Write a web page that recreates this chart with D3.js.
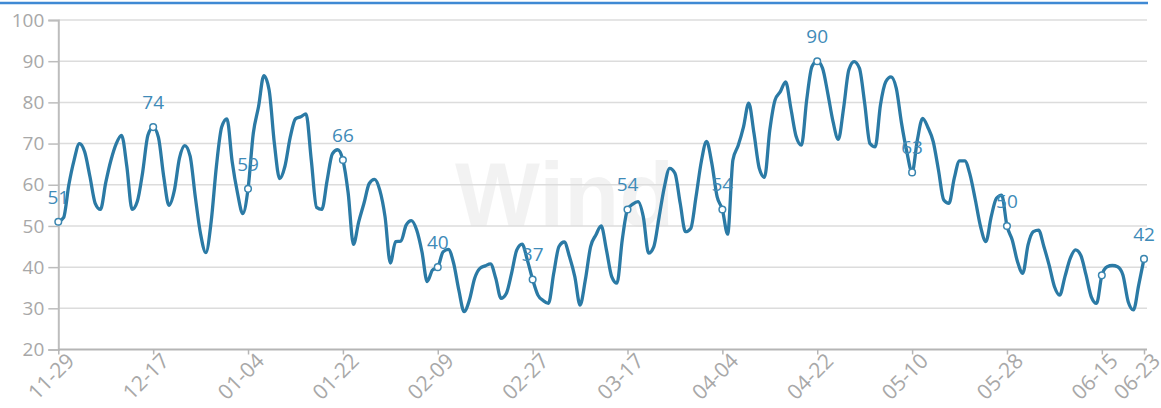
<!DOCTYPE html>
<html>
<head>
<meta charset="utf-8">
<script src="https://cdn.jsdelivr.net/npm/d3@7/dist/d3.min.js"></script>
<style>
  html, body { margin: 0; padding: 0; background: #fff; }
  svg { display: block; font-family: "Open Sans", "Noto Sans", sans-serif; }
</style>
</head>
<body>
<svg id="chart" width="1161" height="408"></svg>
<script>
// Daily categories: 2022-11-29 .. 2023-06-23
const fmt = d3.timeFormat("%m-%d");
const dates = d3.timeDay.range(new Date(2022, 10, 29), new Date(2023, 5, 24)).map(fmt);

// Daily series values
const values = [
  51, 52, 60, 66, 70, 68, 62, 55.5, 54, 60.5,
  66, 70, 72, 64.5, 54, 56, 63, 72, 74, 71.5,
  62, 55, 58.5, 66.5, 69.5, 67, 57, 48, 43.5, 51,
  64.5, 74, 76, 65.5, 58, 53, 59, 72.5, 79, 86.5,
  83, 70, 61.5, 64.5, 71.5, 76, 76.5, 77.2, 66, 54.5,
  54, 61, 67.5, 68.5, 66, 58, 45.5, 51, 55.5, 60.3,
  61.3, 58.7, 52.2, 41, 46.2, 46.3, 50.2, 51.3, 49, 43.7,
  36.5, 39.3, 40, 43.7, 44.3, 41, 34.4, 29.2, 32, 37.3,
  39.7, 40.3, 40.8, 37.3, 32.4, 33.6, 38.5, 44.2, 45.6, 41.7,
  37, 33.2, 31.9, 31.2, 38.5, 45, 46.1, 42.5, 37.7, 30.8,
  36.9, 45, 47.8, 50, 44.2, 37.7, 36.1, 46.6, 54, 55.3,
  55.9, 52.2, 43.4, 45, 52.2, 59.5, 64, 62.8, 55.5, 48.6,
  49.4, 57.1, 65.6, 70.5, 65.2, 57.1, 54, 48, 66, 69.5,
  74, 79.8, 72.5, 64, 61.8, 73.3, 80.6, 82.6, 85, 78.5,
  71.7, 69.6, 80.6, 88.7, 90, 88.3, 82.2, 75.3, 71, 78.6,
  87.9, 89.9, 88.3, 79.8, 70, 69.2, 79.4, 85, 86.2, 83.4,
  74.9, 68, 63, 70.9, 76.1, 73.9, 70.5, 63.6, 56.3, 55.5,
  61.6, 65.8, 65.8, 62.4, 56.3, 49.8, 46.2, 52.2, 56.7, 57.5,
  50, 46.6, 41.3, 38.5, 45.4, 48.6, 49, 45, 40.5, 35.3,
  33.2, 37.7, 42.1, 44.2, 42.9, 38.1, 32.8, 31.2, 38, 40.1,
  40.4, 40.1, 38.1, 31.6, 29.6, 35.7, 42
];

// Axis ticks
const xTickLabels = ["11-29", "12-17", "01-04", "01-22", "02-09", "02-27", "03-17",
                     "04-04", "04-22", "05-10", "05-28", "06-15", "06-23"];
const yTickValues = [20, 30, 40, 50, 60, 70, 80, 90, 100];
// Points with a marker; the ones listed in labelledDates also carry a value label
const markedDates = xTickLabels;
const labelledDates = ["11-29", "12-17", "01-04", "01-22", "02-09", "02-27", "03-17",
                       "04-04", "04-22", "05-10", "05-28", "06-23"];

(function draw() {
  const data = dates.map((d, i) => ({ date: d, value: values[i] }));

  const svg = d3.select("#chart");
  const plotLeft = 58.3, plotEnd = 1144, plotRight = 1147, plotTop = 20, plotBottom = 349.5;

  const x = d3.scalePoint().domain(dates).range([plotLeft, plotEnd]);
  const y = d3.scaleLinear().domain([20, 100]).range([plotBottom, plotTop]);

  // header rule
  svg.append("line")
    .attr("x1", 0).attr("x2", 1148).attr("y1", 3).attr("y2", 3)
    .attr("stroke", "#3f89d4").attr("stroke-width", 2.5);

  // watermark
  svg.append("text")
    .attr("x", 455).attr("y", 226)
    .attr("font-family", "Liberation Sans, Arial, sans-serif")
    .attr("font-weight", "bold").attr("font-size", 90)
    .attr("fill", "#000").attr("fill-opacity", 0.05)
    .text("Wind");

  // horizontal grid
  svg.append("g")
    .selectAll("line")
    .data(yTickValues.slice(1))
    .join("line")
    .attr("x1", plotLeft).attr("x2", plotRight)
    .attr("y1", d => y(d)).attr("y2", d => y(d))
    .attr("stroke", "#dcdcdc").attr("stroke-width", 1.5);

  // y axis
  const yAxis = svg.append("g")
    .attr("transform", `translate(${plotLeft},0)`)
    .call(d3.axisLeft(y).tickValues(yTickValues).tickSize(10).tickPadding(4).tickFormat(d3.format("d")));
  yAxis.select(".domain").attr("stroke", "#bdbdbd").attr("stroke-width", 2);
  yAxis.selectAll(".tick line").attr("stroke", "#bdbdbd").attr("stroke-width", 1.5);
  yAxis.selectAll(".tick text")
    .attr("fill", "#a8a8a8").attr("font-size", 19)
    .attr("font-family", "Open Sans, sans-serif");

  // x axis
  const xAxis = svg.append("g")
    .attr("transform", `translate(0,${plotBottom})`)
    .call(d3.axisBottom(x).tickValues(xTickLabels).tickSize(5).tickSizeOuter(0));
  xAxis.select(".domain")
    .attr("d", `M${plotLeft},0H${plotRight}`)
    .attr("stroke", "#b5b5b5").attr("stroke-width", 2);
  xAxis.selectAll(".tick line").attr("stroke", "#b5b5b5").attr("stroke-width", 1.5);
  xAxis.selectAll(".tick text")
    .attr("fill", "#a8a8a8").attr("font-size", 21)
    .attr("font-family", "Open Sans, sans-serif")
    .attr("text-anchor", "end")
    .attr("x", 3).attr("y", 6).attr("dy", "0.71em")
    .attr("transform", "rotate(-45)");

  // series line
  const line = d3.line()
    .x(d => x(d.date))
    .y(d => y(d.value))
    .curve(d3.curveMonotoneX);

  svg.append("path")
    .datum(data)
    .attr("d", line)
    .attr("fill", "none")
    .attr("stroke", "#2b7aa5")
    .attr("stroke-width", 3.3)
    .attr("stroke-linejoin", "round");

  // markers
  const marked = data.filter(d => markedDates.includes(d.date));
  svg.append("g")
    .selectAll("circle")
    .data(marked)
    .join("circle")
    .attr("cx", d => x(d.date)).attr("cy", d => y(d.value))
    .attr("r", 3.3)
    .attr("fill", "#fff").attr("stroke", "#3a86b0").attr("stroke-width", 1.5);

  // value labels
  svg.append("g")
    .selectAll("text")
    .data(data.filter(d => labelledDates.includes(d.date)))
    .join("text")
    .attr("x", d => x(d.date)).attr("y", d => y(d.value) - 18)
    .attr("text-anchor", "middle")
    .attr("font-family", "Open Sans, sans-serif")
    .attr("font-size", 19)
    .attr("fill", "#3f8bb8")
    .text(d => d3.format("d")(Math.round(d.value)));
})();
</script>
</body>
</html>
